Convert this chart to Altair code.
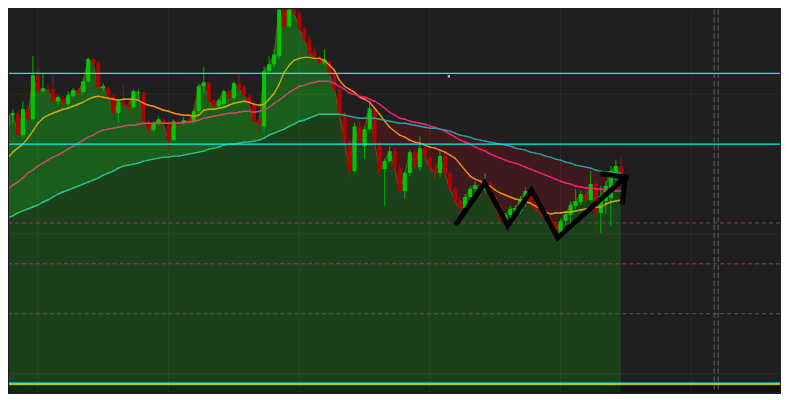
import altair as alt
import numpy as np
import pandas as pd

# ---------------- data (price units, one row per bar) ----------------
bar = list(range(1, 124))
open_ = [275,286,288,266,292,282,326,310,312,312,300,303,297,305,311,309,320,342,338,313,
         313,305,288,300,297,294,308,309,279,271,278,281,277,261,280,278,282,279,290,315,
         319,301,295,297,310,303,318,314,305,297,282,275,330,337,345,392,375,400,388,373,
         362,350,345,338,340,328,312,288,260,230,275,255,272,293,258,232,240,250,232,210,
         228,249,234,253,244,233,228,245,227,212,200,193,204,212,216,211,218,204,195,178,
         186,190,190,202,210,198,192,188,183,178,168,180,186,195,199,207,201,217,188,200,
         203,227,235]
close = [286,288,266,292,282,326,310,313,311,300,304,298,306,311,308,320,342,338,314,315,
         305,288,300,296,294,310,309,280,272,278,282,277,261,280,277,281,279,290,315,319,
         300,295,301,310,303,318,313,306,297,280,277,330,337,347,392,375,402,388,373,362,
         348,345,338,342,328,312,288,260,230,275,257,272,293,258,230,240,250,232,210,228,
         249,235,253,244,233,228,245,227,212,200,192,204,212,216,210,220,204,194,182,186,
         192,193,202,210,198,192,187,183,178,168,180,187,196,200,207,201,217,188,205,215,
         230,235,225]
high = [290,292,290,300,296,345,335,328,317,327,306,305,310,313,313,322,344,345,340,318,
        315,307,302,317,300,312,312,310,281,280,284,283,280,282,282,284,284,292,317,334,
        320,302,303,312,312,320,327,316,307,299,284,335,345,352,397,398,408,405,392,375,
        365,355,346,352,342,330,314,290,262,278,280,274,300,295,260,242,255,252,236,230,
        251,251,265,256,246,237,250,248,230,215,203,207,215,220,222,228,220,206,197,188,
        195,196,205,214,212,202,195,191,186,180,182,190,200,212,210,210,230,220,215,220,
        235,241,245]
low = [272,278,263,262,278,280,308,308,308,298,296,296,294,303,305,308,318,335,312,310,
       303,286,278,294,290,292,302,277,267,268,276,274,250,260,275,276,277,277,288,308,
       298,292,293,295,301,301,311,304,294,278,269,269,328,334,342,373,373,386,370,358,
       345,342,336,336,325,310,285,257,223,228,254,242,270,255,228,195,238,230,208,202,
       225,232,230,240,230,222,224,224,210,197,188,190,197,205,205,208,200,190,178,174,
       181,186,187,194,195,189,184,180,174,164,165,176,178,192,196,198,199,168,168,187,
       175,220,222]
ema_fast = [243,249,253,257,263,270,278,283,286,288,290,292,293,295,297,299,302,304,305,304,
            303,302,301,302,302,302,301,298,296,295,293,291,290,288,287,286,286,285,286,291,
            292,292,293,294,296,298,299,300,299,297,296,297,302,308,317,329,336,341,343,344,
            344,343,343,341,336,331,321,315,312,309,304,302,299,293,287,280,274,270,266,264,
            261,259,258,256,254,253,251,249,246,243,237,231,225,222,220,217,215,211,208,206,
            204,202,201,199,198,195,192,189,187,188,188,189,189,190,191,192,193,194,194,197,
            199,200,201]
ema_mid = [212,216,219,223,228,231,235,238,241,244,246,249,252,255,258,261,264,266,269,271,
           272,273,274,275,276,276,277,278,278,278,278,278,278,278,278,279,279,280,281,283,
           284,285,286,287,288,288,289,290,290,289,290,291,294,298,301,305,309,312,315,316,
           318,319,320,320,320,318,315,312,308,307,305,304,302,300,297,293,289,286,283,282,
           280,279,278,277,275,274,272,270,267,264,261,259,257,254,252,250,247,245,243,241,
           239,238,236,234,232,230,228,226,224,222,220,218,217,215,214,213,213,212,212,211,
           211,210,210]
ema_slow = [183,185,188,190,192,194,196,199,201,204,207,209,211,213,215,217,219,221,223,226,
            228,230,233,235,236,237,238,240,241,242,243,244,244,245,245,246,247,248,249,250,
            252,253,254,256,257,257,258,259,259,260,261,263,266,268,270,272,275,277,280,281,
            283,285,287,287,287,287,287,286,285,284,283,283,283,283,282,281,280,279,278,278,
            277,276,275,274,273,273,272,271,270,268,266,265,264,262,261,260,259,258,257,256,
            255,253,252,251,249,248,247,245,244,242,241,239,238,236,235,234,233,231,230,229,
            229,228,228]

# horizontal levels / grid (price units) and vertical markers (bar units)
x_domain = [1.2443, 154.66]
y_domain = [8, 392]
grid_x = [7, 33, 59, 85, 111, 137]
grid_y = [307, 167, 27]
cyan_levels = [328, 257]
cyan_bottom = [17.4]
yellow_bottom = [15.9]
pane_top = 15.5
pane_floor = 8
pink_levels = [178, 137]
grey_levels = [87]
session_x = [141.56, 142.36]

# hand-drawn zig-zag annotation (bar, price)
zig_x = [90.37, 95.92, 100.49, 105.25, 110.41, 123.71]
zig_y = [178, 218, 175, 211, 163, 223]
head1_x = [119.35, 124.11]
head1_y = [227, 224]
head2_x = [123.9, 123.32]
head2_y = [224, 199]
dot_x = [88.77]
dot_y = [325]

# ---------------- tables ----------------
df = pd.DataFrame({"bar": bar, "open": open_, "close": close, "high": high, "low": low,
                   "fast": ema_fast, "mid": ema_mid, "slow": ema_slow})
df["dir"] = np.where(df["close"] >= df["open"], "up", "down")
df["x0"] = df["bar"] - 0.4
df["x1"] = df["bar"] + 0.4
df["band_top"] = df[["close", "slow"]].max(axis=1)
df["band_bot"] = df[["close", "slow"]].min(axis=1)
df["pane"] = pane_top
df["floor"] = pane_floor

segs = []
for name, vals in [("fast", ema_fast), ("mid", ema_mid), ("slow", ema_slow)]:
    prev = "up"
    for k in range(len(bar) - 1):
        if vals[k + 1] > vals[k]:
            d = "up"
        elif vals[k + 1] < vals[k]:
            d = "down"
        else:
            d = prev
        prev = d
        segs.append({"x": bar[k], "x2": bar[k + 1], "y": vals[k], "y2": vals[k + 1],
                     "key": f"{name}_{d}"})
seg_df = pd.DataFrame(segs)

zig_rows = []
for g, xs, ys in [("zig", zig_x, zig_y), ("h1", head1_x, head1_y), ("h2", head2_x, head2_y)]:
    for k, (a, b) in enumerate(zip(xs, ys)):
        zig_rows.append({"g": g, "o": k, "x": a, "y": b})
zig_df = pd.DataFrame(zig_rows)

XS = alt.Scale(domain=x_domain, nice=False, zero=False)
YS = alt.Scale(domain=y_domain, nice=False, zero=False)


def X(f):
    return alt.X(f, type="quantitative", scale=XS, axis=None)


def Y(f):
    return alt.Y(f, type="quantitative", scale=YS, axis=None)


base = alt.Chart(df)

area_base = base.mark_area(color="#1c3f1c", clip=True).encode(x=X("bar"), y=Y("close"), y2="floor")
band_red = base.mark_area(color="#3e1a1e", clip=True).encode(x=X("bar"), y=Y("slow"), y2="band_bot")
band_green = base.mark_area(color="#1b5e1b", clip=True).encode(x=X("bar"), y=Y("band_top"), y2="slow")

strip_df = pd.DataFrame({"xa": [x_domain[0]], "xb": [x_domain[1]], "top": [pane_top], "bot": [pane_floor]})
strip_dark = alt.Chart(strip_df).mark_rect(color="#111111").encode(
    x=X("xa"), x2="xb", y=Y("top"), y2="bot")
strip_green = base.mark_area(color="#0c2e0c", clip=True).encode(x=X("bar"), y=Y("pane"), y2="floor")

grid_v = alt.Chart(pd.DataFrame({"x": grid_x})).mark_rule(
    color="white", opacity=0.06, strokeWidth=1).encode(x=X("x"))
grid_h = alt.Chart(pd.DataFrame({"y": grid_y})).mark_rule(
    color="white", opacity=0.06, strokeWidth=1).encode(y=Y("y"))

pink = alt.Chart(pd.DataFrame({"y": pink_levels})).mark_rule(
    color="#9c3a62", strokeWidth=1, strokeDash=[4, 3]).encode(y=Y("y"))
grey = alt.Chart(pd.DataFrame({"y": grey_levels})).mark_rule(
    color="#5c5c5c", strokeWidth=1, strokeDash=[4, 3]).encode(y=Y("y"))
session = alt.Chart(pd.DataFrame({"x": session_x})).mark_rule(
    color="#666666", strokeWidth=1, strokeDash=[5, 3]).encode(x=X("x"))

edge = base.mark_line(color="#6e5514", strokeWidth=1.2, opacity=0.9, clip=True).encode(
    x=X("bar"), y=Y("close"))

ema_keys = ["fast_up", "fast_down", "mid_up", "mid_down", "slow_up", "slow_down"]
ema_cols = ["#c8b000", "#ff8a10", "#c9506a", "#ff1f7c", "#22c98f", "#2aa2aa"]
emas = alt.Chart(seg_df).mark_rule(strokeWidth=1.4, strokeCap="round", clip=True).encode(
    x=X("x"), x2="x2", y=Y("y"), y2="y2",
    stroke=alt.Stroke("key:N", scale=alt.Scale(domain=ema_keys, range=ema_cols), legend=None))

wscale = alt.Scale(domain=["up", "down"], range=["#00b400", "#8c1c10"])
cscale = alt.Scale(domain=["up", "down"], range=["#00c800", "#b30000"])
wick = base.mark_rule(strokeWidth=1, clip=True).encode(
    x=X("bar"), y=Y("low"), y2="high", stroke=alt.Stroke("dir:N", scale=wscale, legend=None))
body = base.mark_rect(clip=True).encode(
    x=X("x0"), x2="x1", y=Y("open"), y2="close",
    color=alt.Color("dir:N", scale=cscale, legend=None))

cyan = alt.Chart(pd.DataFrame({"y": cyan_levels})).mark_rule(
    color="#00f8f8", strokeWidth=1.4).encode(y=Y("y"))
cyan_b = alt.Chart(pd.DataFrame({"y": cyan_bottom})).mark_rule(
    color="#00f8f8", strokeWidth=1.5).encode(y=Y("y"))
yellow_b = alt.Chart(pd.DataFrame({"y": yellow_bottom})).mark_rule(
    color="#e8e800", strokeWidth=0.9).encode(y=Y("y"))

zig = alt.Chart(zig_df).mark_line(color="black", strokeWidth=5, strokeJoin="miter",
                                   strokeCap="square", clip=True).encode(
    x=X("x"), y=Y("y"), detail="g:N", order="o:Q")

dot = alt.Chart(pd.DataFrame({"x": dot_x, "y": dot_y})).mark_square(
    size=5, color="#d0d0d0", opacity=1).encode(x=X("x"), y=Y("y"))

chart = alt.layer(
    area_base, band_red, band_green, strip_dark, strip_green,
    grid_v, grid_h, pink, grey, session,
    edge, wick, body, emas, cyan, cyan_b, yellow_b, zig, dot
).resolve_scale(color="independent", stroke="independent").properties(
    width=773, height=384, padding=0, background="#1f1f1f"
).configure_view(strokeWidth=0)

chart.save("out.html", embed_options={"renderer": "svg", "actions": False})
